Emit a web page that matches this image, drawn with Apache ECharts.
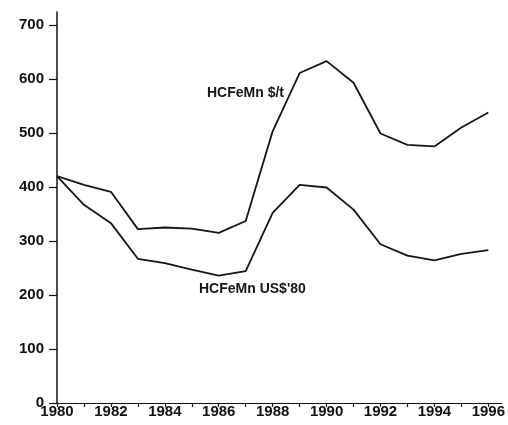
<!DOCTYPE html>
<html>
<head>
<meta charset="utf-8">
<script src="https://cdn.jsdelivr.net/npm/echarts@6/dist/echarts.min.js"></script>
<style>html,body{margin:0;padding:0;background:#fff}#c{width:508px;height:425px}</style>
</head>
<body>
<div id="c"></div>
<script>
var years = [1980,1981,1982,1983,1984,1985,1986,1987,1988,1989,1990,1991,1992,1993,1994,1995,1996];
var nominal = [420,404,391,322,325,323,315,337,503,611,633,593,499,478,475,510,538];
var real80 = [420,367,333,267,259,247,236,244,352,404,399,358,294,273,264,276,283];
var yTicks = [0,100,200,300,400,500,600,700];
var xLabelYears = [1980,1982,1984,1986,1988,1990,1992,1994,1996];
var nominalName = 'HCFeMn $/t';
var realName = "HCFeMn US$'80";

var font = 'Liberation Sans, Arial, Helvetica, sans-serif';
var chart = echarts.init(document.getElementById('c'));
function pairs(vals){ return years.map(function(y,i){ return [y, vals[i]]; }); }
chart.setOption({
  animation: false,
  grid: {left: 57, right: 2, top: 12, bottom: 22, containLabel: false},
  xAxis: {
    type: 'value', min: 1980, max: 1996.5, interval: 1,
    splitLine: {show: false},
    axisLine: {show: true, lineStyle: {color: '#111', width: 1.2}},
    axisTick: {show: true, length: 4, inside: false, customValues: years, lineStyle: {color: '#111', width: 1.2}},
    axisLabel: {show: true, customValues: xLabelYears, margin: 1, color: '#111', fontFamily: font, fontSize: 15, fontWeight: 'bold',
      formatter: function(v){ return String(v); }}
  },
  yAxis: {
    type: 'value', min: 0, max: 724, interval: 100,
    splitLine: {show: false},
    axisLine: {show: true, lineStyle: {color: '#111', width: 1.5}},
    axisTick: {show: true, length: 8, customValues: yTicks, lineStyle: {color: '#111', width: 1.2}},
    axisLabel: {show: true, customValues: yTicks, margin: 13, color: '#111', fontFamily: font, fontSize: 15, fontWeight: 'bold'}
  },
  series: [
    {type: 'line', name: nominalName, data: pairs(nominal), symbol: 'none', lineStyle: {color: '#151515', width: 1.8}},
    {type: 'line', name: realName, data: pairs(real80), symbol: 'none', lineStyle: {color: '#151515', width: 1.8}}
  ],
  graphic: [
    {type: 'text', left: 207, top: 86, style: {text: nominalName, fill: '#151515', font: 'bold 14px ' + font}},
    {type: 'text', left: 199, top: 282, style: {text: realName, fill: '#151515', font: 'bold 14px ' + font}}
  ]
});
</script>
</body>
</html>
